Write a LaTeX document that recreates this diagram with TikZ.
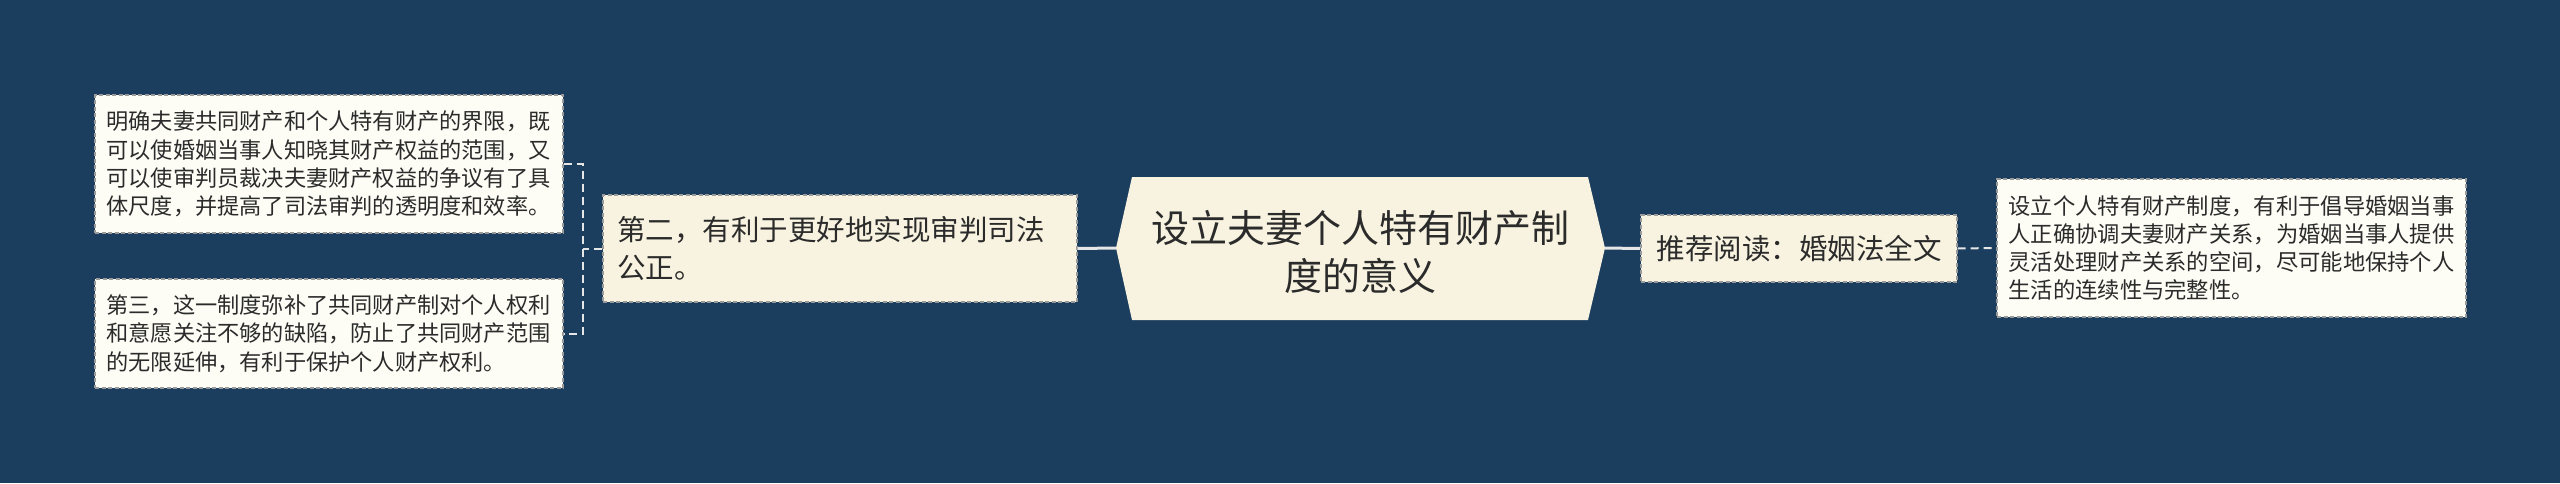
\documentclass[tikz,border=0pt]{standalone}
\usepackage{fontspec}
\newfontfamily\cjk{Noto Sans CJK SC}
\definecolor{bg}{HTML}{1B3D5E}
\definecolor{cream}{HTML}{F8F3E0}
\definecolor{leaffill}{HTML}{FDFDF6}
\definecolor{bord}{HTML}{9A9A9A}
\definecolor{txt}{HTML}{2B2B2B}
\definecolor{link}{HTML}{E6E6E6}
\tikzset{
  boxbase/.style={draw=bord, line width=1.4pt, dash pattern=on 4pt off 2.5pt, inner sep=0pt, text=txt, align=left},
  leafbox/.style={boxbase, fill=leaffill, font=\cjk\fontsize{22.2}{28.3}\selectfont},
  midbox/.style={boxbase, fill=cream, font=\cjk\fontsize{28.5}{38}\selectfont},
  solidlink/.style={draw=link, line width=3pt},
  dashlink/.style={draw=link, line width=2pt, dash pattern=on 8pt off 5pt},
}
\begin{document}
\begin{tikzpicture}[x=1pt,y=-1pt]
\fill[bg] (0,0) rectangle (2560,483);
\useasboundingbox (0,0) rectangle (2560,483);

\node[leafbox, minimum width=468pt, minimum height=138pt, text width=445pt] (l1) at (329,164)
 {明确夫妻共同财产和个人特有财产的界限，既\\可以使婚姻当事人知晓其财产权益的范围，又\\可以使审判员裁决夫妻财产权益的争议有了具\\体尺度，并提高了司法审判的透明度和效率。};
\node[leafbox, minimum width=468pt, minimum height=109pt, text width=445pt] (l2) at (329,333.5)
 {第三，这一制度弥补了共同财产制对个人权利\\和意愿关注不够的缺陷，防止了共同财产范围\\的无限延伸，有利于保护个人财产权利。};
\node[midbox, minimum width=474pt, minimum height=107pt, text width=446pt] (m) at (840,248.5)
 {第二，有利于更好地实现审判司法\\公正。};

\fill[cream] (1116,248) -- (1132,177) -- (1588,177) -- (1605,248) -- (1588,320) -- (1132,320) -- cycle;
\coordinate (cw) at (1116,248);
\coordinate (ce) at (1605,248);
\node[text=txt, align=center, inner sep=0pt, font=\cjk\fontsize{38}{48}\selectfont] (c) at (1360,252)
 {设立夫妻个人特有财产制\\度的意义};

\node[midbox, minimum width=316pt, minimum height=67pt, align=center] (r) at (1799,248.5)
 {推荐阅读：婚姻法全文};
\node[leafbox, minimum width=469pt, minimum height=138pt, text width=446pt, font=\cjk\fontsize{22.3}{28.3}\selectfont] (rl) at (2231.5,248)
 {设立个人特有财产制度，有利于倡导婚姻当事\\人正确协调夫妻财产关系，为婚姻当事人提供\\灵活处理财产关系的空间，尽可能地保持个人\\生活的连续性与完整性。};

\draw[solidlink] (cw) -- (m.east);
\draw[solidlink] (ce) -- (r.west);
\draw[dashlink] (r.east) -- (rl.west);
\coordinate (j) at (583,248.5);
\draw[dashlink] (m.west) -- (j);
\draw[dashlink] (l1.east) -- (l1.east -| j) -- (l2.east -| j) -- (l2.east);
\end{tikzpicture}
\end{document}
